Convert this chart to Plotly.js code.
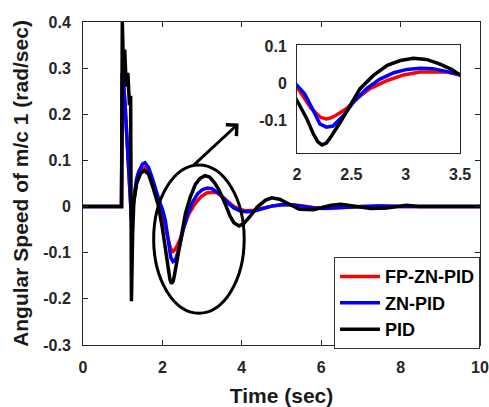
<!DOCTYPE html>
<html>
<head>
<meta charset="utf-8">
<script src="https://cdn.plot.ly/plotly-3.0.1.min.js"></script>
<style>html,body{margin:0;padding:0;background:#fff;}#chart{width:489px;height:407px;}</style>
</head>
<body>
<div id="chart"></div>
<script>
// ---- data ----
const tRed = [0, 0.97, 0.99, 1.02, 1.06, 1.1, 1.15, 1.2, 1.23, 1.27, 1.3, 1.35, 1.4, 1.45, 1.5, 1.57, 1.65, 1.75, 1.85, 1.93, 2.0, 2.07, 2.13, 2.18, 2.22, 2.27, 2.31, 2.36, 2.46, 2.55, 2.67, 2.83, 2.98, 3.13, 3.25, 3.38, 3.5, 3.65, 3.8, 3.95, 4.1, 4.3, 4.5, 4.75, 5.0, 5.25, 5.5, 5.8, 6.1, 6.5, 7.0, 7.5, 8.0, 9.0, 10];
const vRed = [0, 0, 0.29, 0.27, 0.22, 0.16, 0.1, 0.0, -0.04, 0.005, 0.03, 0.055, 0.068, 0.077, 0.082, 0.085, 0.075, 0.05, 0.025, 0.008, -0.01, -0.042, -0.068, -0.083, -0.093, -0.097, -0.094, -0.087, -0.068, -0.042, -0.015, 0.007, 0.022, 0.03, 0.031, 0.03, 0.022, 0.01, 0.0, -0.006, -0.009, -0.008, -0.004, 0.001, 0.004, 0.004, 0.002, -0.002, -0.003, -0.002, 0.0, 0.001, 0.0, 0.0, 0];

const tBlue = [0, 0.97, 0.99, 1.02, 1.06, 1.1, 1.15, 1.2, 1.23, 1.27, 1.3, 1.35, 1.4, 1.45, 1.5, 1.56, 1.65, 1.75, 1.85, 1.93, 2.0, 2.07, 2.15, 2.21, 2.27, 2.33, 2.43, 2.52, 2.64, 2.76, 2.89, 3.01, 3.13, 3.25, 3.38, 3.5, 3.65, 3.8, 3.95, 4.1, 4.3, 4.5, 4.75, 5.0, 5.25, 5.5, 5.8, 6.1, 6.5, 7.0, 7.5, 8.0, 9.0, 10];
const vBlue = [0, 0, 0.29, 0.27, 0.22, 0.16, 0.1, 0.0, -0.04, 0.01, 0.035, 0.06, 0.075, 0.086, 0.092, 0.095, 0.085, 0.06, 0.03, 0.01, -0.006, -0.029, -0.074, -0.11, -0.119, -0.116, -0.087, -0.051, -0.015, 0.01, 0.028, 0.037, 0.04, 0.039, 0.031, 0.022, 0.008, -0.003, -0.009, -0.011, -0.01, -0.005, 0.001, 0.004, 0.004, 0.001, -0.003, -0.004, -0.002, 0.0, 0.001, 0.0, 0.0, 0];

const tPid = [0, 0.97, 0.99, 1.02, 1.05, 1.09, 1.13, 1.17, 1.2, 1.22, 1.25, 1.28, 1.35, 1.45, 1.55, 1.65, 1.75, 1.83, 1.9, 2.0, 2.09, 2.15, 2.19, 2.23, 2.27, 2.3, 2.4, 2.49, 2.58, 2.7, 2.83, 2.95, 3.07, 3.19, 3.31, 3.42, 3.5, 3.6, 3.7, 3.8, 3.93, 4.05, 4.2, 4.4, 4.6, 4.75, 4.95, 5.2, 5.45, 5.8, 6.0, 6.25, 6.5, 6.9, 7.25, 7.65, 7.9, 8.15, 8.45, 9.0, 10];
const vPid = [0, 0, 0.40, 0.30, 0.34, 0.26, 0.29, 0.22, 0.24, -0.205, -0.06, 0.01, 0.05, 0.072, 0.078, 0.07, 0.045, 0.022, 0.002, -0.047, -0.096, -0.137, -0.158, -0.167, -0.162, -0.15, -0.105, -0.06, -0.015, 0.02, 0.048, 0.061, 0.067, 0.064, 0.052, 0.037, 0.022, 0.002, -0.02, -0.035, -0.042, -0.037, -0.022, 0.0, 0.014, 0.019, 0.016, 0.004, -0.006, -0.007, -0.003, 0.003, 0.005, 0.001, -0.004, -0.003, 0.0, 0.003, 0.0, 0.0, 0];

const seriesNames = ['FP-ZN-PID', 'ZN-PID', 'PID'];
const seriesColors = ['#ff0000', '#0000ff', '#000000'];

const xTicks = [0, 2, 4, 6, 8, 10];
const xTickText = ['0', '2', '4', '6', '8', '10'];
const yTicks = [-0.3, -0.2, -0.1, 0, 0.1, 0.2, 0.3, 0.4];
const yTickText = ['-0.3', '-0.2', '-0.1', '0', '0.1', '0.2', '0.3', '0.4'];
const insetXTicks = [2, 2.5, 3, 3.5];
const insetXTickText = ['2', '2.5', '3', '3.5'];
const insetYTicks = [-0.1, 0, 0.1];
const insetYTickText = ['-0.1', '0', '0.1'];

// ---- build ----
const FONT = 'Liberation Sans, Arial, Helvetica, sans-serif';
const TICKC = '#262626';
const xs = [tRed, tBlue, tPid];
const ys = [vRed, vBlue, vPid];

const traces = [];
for (let i = 0; i < 3; i++) {
  traces.push({
    x: xs[i], y: ys[i], type: 'scatter', mode: 'lines', name: seriesNames[i],
    line: {color: seriesColors[i], width: 3.5, shape: 'linear'},
    xaxis: 'x', yaxis: 'y', showlegend: true
  });
}
for (let i = 0; i < 3; i++) {
  traces.push({
    x: xs[i], y: ys[i], type: 'scatter', mode: 'lines', name: seriesNames[i],
    line: {color: seriesColors[i], width: 3.5, shape: 'linear'},
    xaxis: 'x2', yaxis: 'y2', showlegend: false
  });
}

const tickFont = {family: FONT, size: 16, color: TICKC, weight: 'bold'};

const layout = {
  width: 489, height: 407,
  margin: {l: 83, r: 9, t: 22, b: 62},
  paper_bgcolor: '#fff', plot_bgcolor: '#fff',
  font: {family: FONT},
  xaxis: {
    domain: [0, 1], range: [0, 10], tickmode: 'array', tickvals: xTicks, ticktext: xTickText,
    ticks: 'inside', ticklen: 5, tickcolor: TICKC, showline: true, mirror: 'ticks',
    linecolor: TICKC, linewidth: 1, showgrid: false, zeroline: false,
    tickfont: tickFont, ticklabelstandoff: 8,
    title: {text: 'Time (sec)', font: {family: FONT, size: 21, color: '#1a1a1a', weight: 'bold'}, standoff: 15}
  },
  yaxis: {
    domain: [0, 1], range: [-0.3, 0.4], tickmode: 'array', tickvals: yTicks, ticktext: yTickText,
    ticks: 'inside', ticklen: 5, tickcolor: TICKC, showline: true, mirror: 'ticks',
    linecolor: TICKC, linewidth: 1, showgrid: false, zeroline: false,
    tickfont: tickFont, ticklabelstandoff: 8,
    title: {text: 'Angular Speed of m/c 1 (rad/sec)', font: {family: FONT, size: 21, color: '#1a1a1a', weight: 'bold'}, standoff: 8}
  },
  xaxis2: {
    domain: [0.539, 0.95], anchor: 'y2', range: [2, 3.5], tickmode: 'array',
    tickvals: insetXTicks, ticktext: insetXTickText, ticks: '', showline: true, mirror: true,
    linecolor: TICKC, linewidth: 1, showgrid: false, zeroline: false,
    tickfont: tickFont, ticklabelstandoff: 6
  },
  yaxis2: {
    domain: [0.593, 0.929], anchor: 'x2', range: [-0.19, 0.103], tickmode: 'array',
    tickvals: insetYTicks, ticktext: insetYTickText, ticks: '', showline: true, mirror: true,
    linecolor: TICKC, linewidth: 1, showgrid: false, zeroline: false,
    tickfont: tickFont, ticklabelstandoff: 6
  },
  legend: {
    x: 1, y: -0.013, xanchor: 'right', yanchor: 'bottom',
    bgcolor: '#fff', bordercolor: '#333', borderwidth: 1,
    font: {family: FONT, size: 18, color: '#000', weight: 'bold'},
    tracegroupgap: 0, itemwidth: 40
  },
  shapes: [{
    type: 'circle', xref: 'x', yref: 'y', x0: 1.78, x1: 4.06, y0: -0.231, y1: 0.09,
    line: {color: '#000', width: 3}
  }],
  annotations: [{
    x: 3.92, y: 0.18, ax: 2.75, ay: 0.087, xref: 'x', yref: 'y', axref: 'x', ayref: 'y',
    showarrow: true, text: '', arrowhead: 4, arrowsize: 1, arrowwidth: 3, arrowcolor: '#000'
  }]
};

Plotly.newPlot('chart', traces, layout, {displayModeBar: false, staticPlot: true});
</script>
</body>
</html>
